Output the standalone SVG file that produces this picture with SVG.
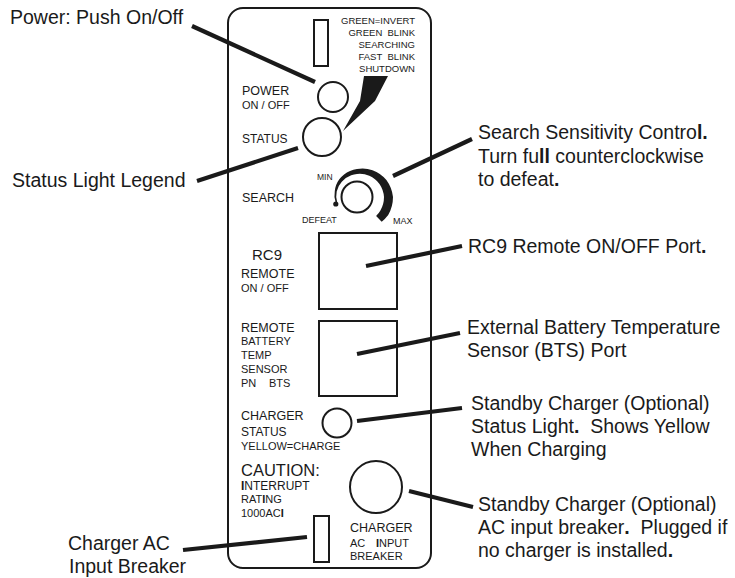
<svg xmlns="http://www.w3.org/2000/svg" width="735" height="578" viewBox="0 0 735 578">
<style>
text{font-family:"Liberation Sans",Arial,Helvetica,sans-serif;fill:#1a1a1a}
.lbl{font-size:19.5px}
.p{font-size:12.5px}
.s{font-size:11px}
.xs{font-size:9px}
.leg{font-size:9.5px;text-anchor:end}
.b{font-weight:bold}
.shape{fill:none;stroke:#1a1a1a;stroke-width:2}
.conn line{stroke:#1a1a1a;stroke-width:4.2;stroke-linecap:butt}
</style>
<rect width="735" height="578" fill="#fff"/>

<g id="panel">
  <rect class="shape" x="228" y="8" width="203" height="560" rx="15" ry="15" stroke-width="2.2"/>
</g>

<g id="status-legend">
  <rect class="shape" x="314" y="20" width="14" height="46"/>
  <text class="leg" x="415" y="24">GREEN=INVERT</text>
  <text class="leg" x="415" y="36">GREEN&#160; BLINK</text>
  <text class="leg" x="415" y="48">SEARCHING</text>
  <text class="leg" x="415" y="60">FAST&#160; BLINK</text>
  <text class="leg" x="415" y="72">SHUTDOWN</text>
  <polygon points="364,76 388,76 375,101 343,131 360,101" fill="#1a1a1a"/>
</g>

<g id="power-button">
  <circle class="shape" cx="333" cy="97" r="15"/>
  <text class="p" x="242" y="95">POWER</text>
  <text class="s" x="242" y="109">ON / OFF</text>
</g>

<g id="status-light">
  <circle class="shape" cx="322" cy="137" r="19"/>
  <text class="p" x="242" y="143" style="font-size:12px">STATUS</text>
</g>

<g id="search-knob">
  <text class="p" x="242" y="202">SEARCH</text>
  <circle class="shape" cx="357" cy="197" r="15.5"/>
  <path fill="#1a1a1a" d="M335.7,202.7 A22.5,22.5 0 0 1 334.8,191 A24,24 0 0 1 339.3,179.3 A26,26 0 0 1 350,170.9 A27.5,27.5 0 0 1 357,169 A29.5,29.5 0 0 1 372.5,170.2 A32.5,32.5 0 0 1 386.4,180 A35,35 0 0 1 393,197 A36,36 0 0 1 388.2,215 A35.5,35.5 0 0 1 381.7,221.7 L376.1,216.1 A27,27 0 0 0 380.4,210.5 A27,27 0 0 0 384,197 A26.5,26.5 0 0 0 379.5,184 A25,25 0 0 0 369.3,175.8 A23.5,23.5 0 0 0 357,174 A22.8,22.8 0 0 0 351.2,175.3 A22,22 0 0 0 341.8,181.8 A21,21 0 0 0 336.7,191.6 A20.5,20.5 0 0 0 337.2,202.3 Z"/>
  <circle cx="335.8" cy="204" r="2.6" fill="#1a1a1a"/>
  <text x="317" y="180" style="font-size:8.5px">MIN</text>
  <text class="xs" x="302" y="223">DEFEAT</text>
  <text class="xs" x="393" y="224">MAX</text>
</g>

<g id="rc9-port">
  <rect class="shape" x="319" y="233" width="78" height="76"/>
  <text x="252" y="260" style="font-size:15px">RC9</text>
  <text class="p" x="241" y="278">REMOTE</text>
  <text class="s" x="241" y="292">ON / OFF</text>
</g>

<g id="bts-port">
  <rect class="shape" x="319" y="321" width="78" height="75"/>
  <text class="p" x="241" y="332">REMOTE</text>
  <text class="s" x="241" y="345">BATTERY</text>
  <text class="s" x="241" y="359">TEMP</text>
  <text class="s" x="241" y="373">SENSOR</text>
  <text class="s" x="241" y="387">PN</text>
  <text class="s" x="269" y="387">BTS</text>
</g>

<g id="charger-status">
  <circle class="shape" cx="337" cy="423" r="14.5"/>
  <text class="p" x="241" y="420">CHARGER</text>
  <text class="p" x="241" y="436" style="font-size:12px">STATUS</text>
  <text class="s" x="241" y="450">YELLOW=CHARGE</text>
</g>

<g id="caution">
  <text x="241" y="475.5" style="font-size:16.5px">CAUTION:</text>
  <text x="241" y="490" style="font-size:12px"><tspan class="b">I</tspan>NTERRUPT</text>
  <text class="s" x="241" y="503">RAT<tspan class="b">I</tspan>NG</text>
  <text class="s" x="241" y="517">1000AC<tspan class="b">I</tspan></text>
</g>

<g id="charger-breaker">
  <circle class="shape" cx="376" cy="487" r="26"/>
  <text class="p" x="350" y="532">CHARGER</text>
  <text class="s" x="350" y="547">AC</text>
  <text class="s" x="376" y="547"><tspan class="b">I</tspan>NPUT</text>
  <text class="s" x="350" y="560">BREAKER</text>
</g>

<g id="charger-ac-input-breaker">
  <rect class="shape" x="314" y="516" width="15" height="46"/>
</g>

<g id="labels">
  <text id="label-power" class="lbl" x="10" y="24">Power: Push On/Off</text>
  <text id="label-legend" class="lbl" x="12" y="187">Status Light Legend</text>
  <g id="label-search">
    <text class="lbl" x="478" y="139">Search Sensitivity Contro<tspan class="b">l.</tspan></text>
    <text class="lbl" x="478" y="163">Turn fu<tspan class="b">ll</tspan> counterclockwise</text>
    <text class="lbl" x="478" y="186">to defeat<tspan class="b">.</tspan></text>
  </g>
  <text id="label-rc9" class="lbl" x="468" y="253">RC9 Remote ON/OFF Port<tspan class="b">.</tspan></text>
  <g id="label-bts">
    <text class="lbl" x="467" y="334">External Battery Temperature</text>
    <text class="lbl" x="467" y="357">Sensor (BTS) Port</text>
  </g>
  <g id="label-charger-status">
    <text class="lbl" x="471" y="410">Standby Charger (Optional)</text>
    <text class="lbl" x="471" y="433">Status Light<tspan class="b">.</tspan>&#160; Shows Yellow</text>
    <text class="lbl" x="471" y="456">When Charging</text>
  </g>
  <g id="label-charger-breaker">
    <text class="lbl" x="478" y="511">Standby Charger (Optional)</text>
    <text class="lbl" x="478" y="534">AC input breaker<tspan class="b">.</tspan>&#160; Plugged if</text>
    <text class="lbl" x="478" y="557">no charger is installed<tspan class="b">.</tspan></text>
  </g>
  <g id="label-charger-ac">
    <text class="lbl" x="68" y="550">Charger AC</text>
    <text class="lbl" x="69" y="573">Input Breaker</text>
  </g>
</g>

<g id="connectors" class="conn">
  <line x1="192" y1="26" x2="315" y2="82"/>
  <line x1="197" y1="181" x2="298" y2="148"/>
  <line x1="393" y1="176" x2="472" y2="139"/>
  <line x1="366" y1="266" x2="462" y2="246"/>
  <line x1="357" y1="354" x2="460" y2="333"/>
  <line x1="357" y1="421" x2="462" y2="408"/>
  <line x1="409" y1="491" x2="473" y2="507"/>
  <line x1="183" y1="550" x2="307" y2="537"/>
</g>
</svg>
